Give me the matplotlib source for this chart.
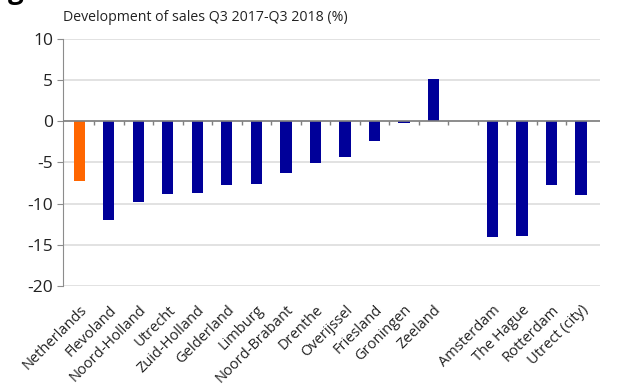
"""Development of sales per province and big city, Q3 2017-Q3 2018."""
import matplotlib
matplotlib.use("Agg")
import matplotlib.pyplot as plt
import numpy as np

plt.rcParams["font.family"] = ["Open Sans", "DejaVu Sans"]
plt.rcParams["axes.unicode_minus"] = False

regions = ["Netherlands", "Flevoland", "Noord-Holland", "Utrecht", "Zuid-Holland",
           "Gelderland", "Limburg", "Noord-Brabant", "Drenthe", "Overijssel",
           "Friesland", "Groningen", "Zeeland", "", "Amsterdam", "The Hague",
           "Rotterdam", "Utrect (city)"]
sales_change = [-7.2, -12.0, -9.8, -8.8, -8.7, -7.75, -7.6, -6.3, -5.1, -4.3,
                -2.4, -0.2, 5.1, np.nan, -14.1, -13.9, -7.75, -9.0]
highlight = "Netherlands"

NAVY = "#000099"
ORANGE = "#FF6600"

fig = plt.figure(figsize=(6.24, 3.9), dpi=100)
ax = fig.add_axes([0.101, 0.267, 0.861, 0.633])

x = np.arange(len(regions))
colors = [ORANGE if r == highlight else NAVY for r in regions]
ax.bar(x, sales_change, width=0.38, color=colors, zorder=3)

ax.set_ylim(-20, 10)
ax.set_yticks(np.arange(-20, 11, 5))
ax.set_xlim(-0.55, len(regions) - 0.35)
ax.yaxis.grid(True, color="#DDDDDD", linewidth=1.2, zorder=0)
ax.axhline(0, color="#7F7F7F", linewidth=1.2, zorder=4)

# little tick marks between categories on the zero line
bounds = np.arange(0.5, len(regions) - 0.5, 1)
ax.vlines(bounds, -0.45, 0, color="#7F7F7F", linewidth=1, zorder=4)

for side in ["top", "right", "bottom"]:
    ax.spines[side].set_visible(False)
ax.spines["left"].set_color("#8C8C8C")
ax.tick_params(axis="y", labelsize=12.5, length=4, color="#8C8C8C",
               labelcolor="#222222", pad=3)

ax.set_xticks(x)
ax.set_xticklabels(regions, rotation=45, ha="right", rotation_mode="anchor",
                   fontsize=10.5, color="#222222")
ax.tick_params(axis="x", length=0, pad=12)

fig.text(0.101, 0.935, "Development of sales Q3 2017-Q3 2018 (%)",
         fontsize=10.2, color="#222222", ha="left", va="bottom")
fig.text(0.012, 1.025, "g", fontsize=20, fontweight="bold", ha="left", va="center")

fig.savefig("out.png", dpi=100)
